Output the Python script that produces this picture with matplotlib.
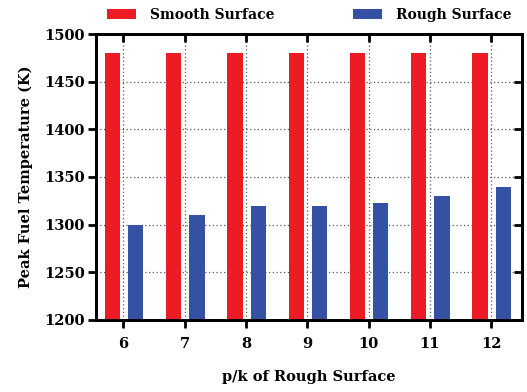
import matplotlib
matplotlib.use("Agg")
import matplotlib.pyplot as plt
import numpy as np

categories = [6, 7, 8, 9, 10, 11, 12]
smooth = [1480, 1480, 1480, 1480, 1480, 1480, 1480]
rough = [1300, 1310, 1320, 1320, 1323, 1330, 1340]
yticks = [1200, 1250, 1300, 1350, 1400, 1450, 1500]

plt.rcParams['font.family'] = ['DejaVu Serif']
plt.rcParams['font.weight'] = 'bold'

fig = plt.figure(figsize=(5.27, 3.92), dpi=100)
ax = fig.add_axes([0.182, 0.184, 0.808, 0.729])

x = np.array(categories, dtype=float)
w = 0.25
ax.bar(x - 0.18, smooth, width=w, color='#ed1c24', label='Smooth Surface', zorder=3)
ax.bar(x + 0.20, rough, width=w, color='#3551a4', label='Rough Surface', zorder=3)

ax.set_xlim(5.55, 12.5)
ax.set_ylim(1200, 1500)
ax.set_xticks(categories)
ax.set_yticks(yticks)
ax.tick_params(axis='both', labelsize=10.5, width=2, length=6)
ax.tick_params(axis='x', direction='out', pad=6)
ax.tick_params(axis='y', direction='out', pad=2)
for lab in ax.get_xticklabels() + ax.get_yticklabels():
    lab.set_fontweight('bold')

ax2 = ax.twiny()
ax2.set_xlim(ax.get_xlim())
ax2.set_xticks(categories)
ax2.tick_params(axis='x', direction='in', width=2, length=6, labeltop=False)
ax3 = ax.twinx()
ax3.set_ylim(ax.get_ylim())
ax3.set_yticks(yticks)
ax3.tick_params(axis='y', direction='in', width=2, length=6, labelright=False)

ax.grid(True, linestyle=(0, (1, 2)), color='#555555', linewidth=0.9, zorder=0)
for a in (ax, ax2, ax3):
    for s in a.spines.values():
        s.set_linewidth(2)

ax.set_xlabel('p/k of Rough Surface', fontsize=10.5, fontweight='bold', labelpad=14)
ax.set_ylabel('Peak Fuel Temperature (K)', fontsize=10.5, fontweight='bold', labelpad=8)

fig.legend(loc='upper left', bbox_to_anchor=(0.185, 1.005), ncol=2, frameon=False,
           prop={'weight': 'bold', 'size': 10}, handlelength=2.1,
           handleheight=0.7, handletextpad=1.0, columnspacing=5.6, borderaxespad=0.3)

fig.savefig('out.png', dpi=100)
